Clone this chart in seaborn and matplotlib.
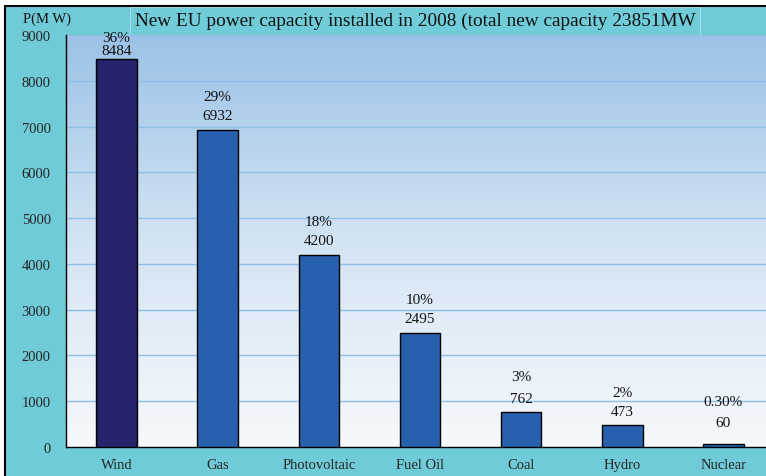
import numpy as np
import seaborn as sns
import matplotlib.pyplot as plt
from matplotlib.patches import Rectangle
from matplotlib.colors import LinearSegmentedColormap

sources = ["Wind", "Gas", "Photovoltaic", "Fuel Oil", "Coal", "Hydro", "Nuclear"]
capacity_mw = [8484, 6932, 4200, 2495, 762, 473, 60]
shares = ["36%", "29%", "18%", "10%", "3%", "2%", "0.30%"]
bar_colors = ["#24236b", "#2760ad", "#2760ad", "#2760ad", "#2760ad", "#2760ad", "#2760ad"]
y_ticks = [0, 1000, 2000, 3000, 4000, 5000, 6000, 7000, 8000, 9000]

sns.set_style("white")
plt.rcParams["font.family"] = ["Liberation Serif", "DejaVu Serif"]

fig = plt.figure(figsize=(7.66, 4.77), dpi=100, facecolor="white")
W, H = 766, 477

# teal frame behind the chart, black edge on top and left
fig.patches.append(Rectangle((5 / W, 0), 1, 1 - 7 / H, transform=fig.transFigure,
                             facecolor="#6fcbd8", edgecolor="none", zorder=-2))
fig.add_artist(plt.Line2D([5 / W, 5 / W], [0, 1 - 7 / H], color="black", lw=1.5))
fig.add_artist(plt.Line2D([5 / W, 1], [1 - 7 / H, 1 - 7 / H], color="black", lw=1.5))

# title box
fig.patches.append(Rectangle((130 / W, 1 - 36 / H), 570 / W, 28 / H, transform=fig.transFigure,
                             facecolor="#71ccd9", edgecolor="#a9dbe4", lw=0.8, zorder=-1))
fig.text(135 / W, 1 - 21 / H, "New EU power capacity installed in 2008 (total new capacity 23851MW",
         fontsize=13.9, va="center", ha="left", color="#111111")
fig.text(23 / W, 1 - 19 / H, "P(M W)", fontsize=10.5, va="center", ha="left", color="#111111")

ax = fig.add_axes([66 / W, 29 / H, 708 / W, 412 / H])
ax.set_zorder(1)

# vertical gradient background
grad = np.linspace(0, 1, 256).reshape(-1, 1)
cmap = LinearSegmentedColormap.from_list("bg", ["#f6f9fd", "#d3e4f3", "#9bc2e7"])
ax.imshow(grad, cmap=cmap, aspect="auto", origin="lower",
          extent=(-0.5, 6.5, 0, 9000), zorder=0)

for t in y_ticks[1:]:
    ax.axhline(t, color="#8fbfe6", lw=1, zorder=1)

sns.barplot(x=sources, y=capacity_mw, hue=sources, palette=bar_colors, legend=False,
            saturation=1, width=0.4, edgecolor="black", linewidth=1, ax=ax, zorder=3)

# label offsets in points above bar top (value, share)
offsets = [(6, 15), (10, 24), (10, 24), (10, 24), (10, 26), (10, 24), (16, 31)]
for i, (v, s) in enumerate(zip(capacity_mw, shares)):
    ax.annotate(str(v), (i, v), xytext=(0, offsets[i][0]), textcoords="offset points",
                ha="center", va="center", fontsize=11, color="#111111")
    ax.annotate(s, (i, v), xytext=(0, offsets[i][1]), textcoords="offset points",
                ha="center", va="center", fontsize=11, color="#111111")

ax.set_xlim(-0.5, 6.5)
ax.set_ylim(0, 9000)
ax.set_yticks(y_ticks)
ax.set_yticklabels([str(t) for t in y_ticks], fontsize=10.5)
ax.set_xticks(range(len(sources)))
ax.set_xticklabels(sources, fontsize=10.5)
ax.set_xticks(np.arange(-0.5, 7, 1), minor=True)
ax.tick_params(axis="x", which="major", length=0, pad=8)
ax.tick_params(axis="x", which="minor", length=5, width=1, color="black", direction="out")
ax.tick_params(axis="y", length=7, width=1, color="black", direction="out", pad=4)
ax.set_xlabel("")
ax.set_ylabel("")
for side in ["top", "right"]:
    ax.spines[side].set_visible(False)
for side in ["left", "bottom"]:
    ax.spines[side].set_color("black")
    ax.spines[side].set_linewidth(1)

fig.savefig("out.png", dpi=100, facecolor=fig.get_facecolor())
